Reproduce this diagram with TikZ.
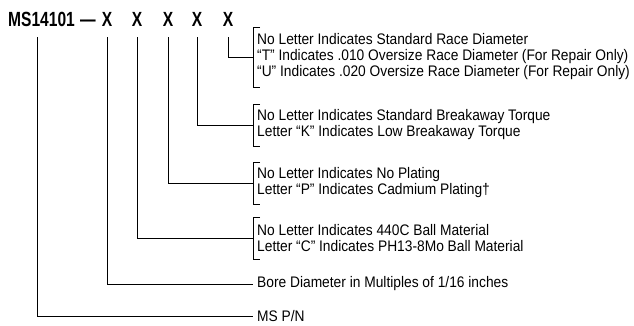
\documentclass[tikz,border=0pt]{standalone}
\usepackage{fontspec}
\setmainfont{Liberation Sans}[FakeStretch=0.9]
\newfontfamily\pnfont{Liberation Sans}[FakeStretch=0.76]
\usetikzlibrary{positioning,calc}
\tikzset{
  pn/.style     = {font=\pnfont\bfseries\fontsize{20.5}{22}\selectfont, inner sep=0pt},
  legend/.style = {anchor=west, align=left, inner xsep=4pt, inner ysep=0pt,
                   font=\fontsize{15.3}{16}\selectfont},
  lead/.style   = {draw, line width=0.9pt}
}
\newcommand\legbracket[2]{\draw[lead] ($(#1.west)+(7,-#2)$) -- ++(-7,0) -- ++(0,2*#2) -- ++(7,0);}

\begin{document}
\begin{tikzpicture}[x=1pt,y=-1pt]
  \useasboundingbox (0,0) rectangle (634,326);
  % part number
  \node[pn, anchor=base west] (ms) at (8,27) {MS14101};
  \node[pn, anchor=base] (dash) at (88,27) {—};
  \foreach \i/\x in {1/107,2/137,3/168,4/197,5/228}
    \node[pn, anchor=base] (x\i) at (\x,27) {X};
  % descriptions
  \node[legend] (race) at (253,57) {No Letter Indicates Standard Race Diameter\\
    “T” Indicates .010 Oversize Race Diameter (For Repair Only)\\
    “U” Indicates .020 Oversize Race Diameter (For Repair Only)};
  \node[legend] (torque) at (253,125) {No Letter Indicates Standard Breakaway Torque\\
    Letter “K” Indicates Low Breakaway Torque};
  \node[legend] (plating) at (253,183) {No Letter Indicates No Plating\\
    Letter “P” Indicates Cadmium Plating†};
  \node[legend] (ball) at (253,238) {No Letter Indicates 440C Ball Material\\
    Letter “C” Indicates PH13-8Mo Ball Material};
  \node[legend] (bore) at (253,284) {Bore Diameter in Multiples of 1/16 inches};
  \node[legend] (mspn) at (253,316) {MS P/N};
  % brackets
  \legbracket{race}{30}
  \legbracket{torque}{21}
  \legbracket{plating}{21}
  \legbracket{ball}{21}
  % leaders
  \foreach \i/\t in {1/bore,2/ball,3/plating,4/torque,5/race}
    \draw[lead] ($(x\i.south)+(0,10)$) |- (\t.west);
  \draw[lead] ($(ms.south west)+(29,10)$) |- (mspn.west);
\end{tikzpicture}
\end{document}
